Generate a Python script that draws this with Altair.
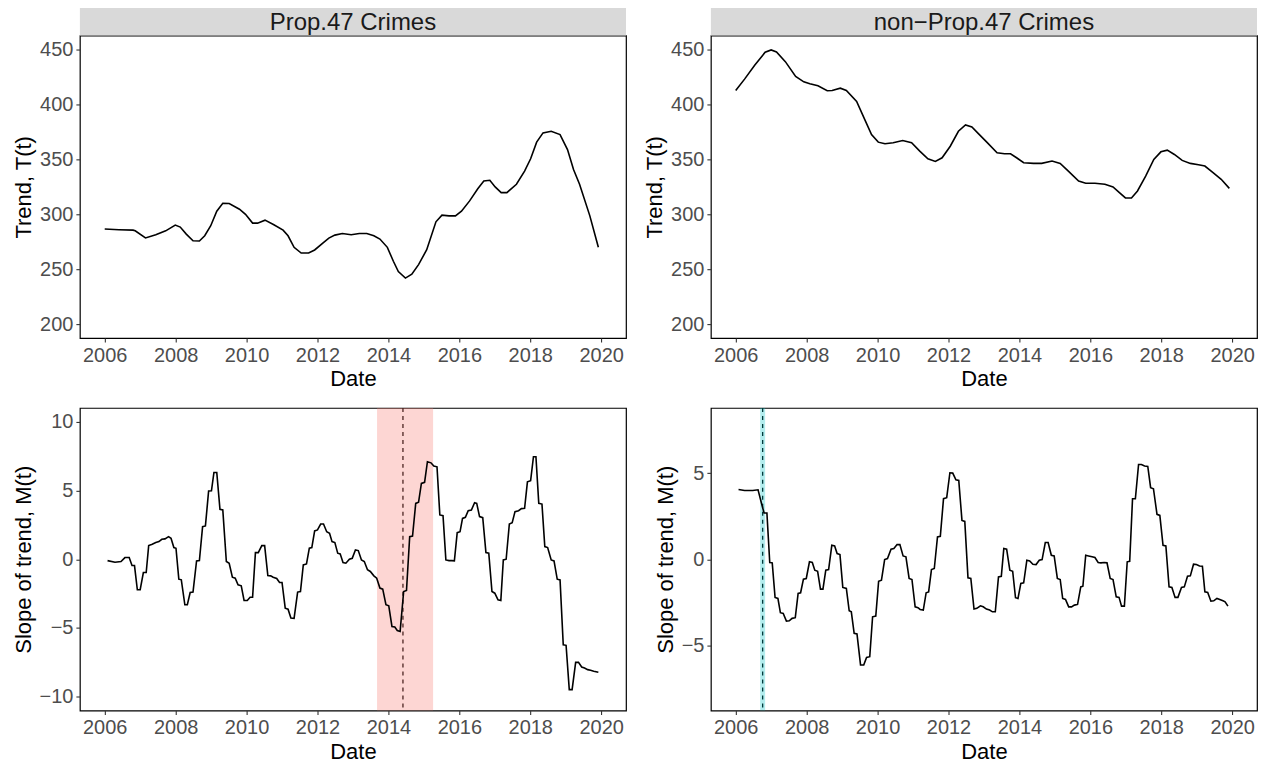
import altair as alt
import pandas as pd

# ---------------- data ----------------
panel_titles = ["Prop.47 Crimes", "non\u2212Prop.47 Crimes"]

p47_trend_year = [2006.0, 2006.4, 2006.8, 2006.86, 2007.15, 2007.44, 2007.72, 2007.99, 2008.13, 2008.3,
                  2008.49, 2008.67, 2008.82, 2008.99, 2009.16, 2009.33, 2009.51, 2009.8, 2009.97, 2010.17,
                  2010.31, 2010.52, 2010.77, 2011.03, 2011.17, 2011.34, 2011.54, 2011.75, 2011.92, 2012.15,
                  2012.32, 2012.49, 2012.7, 2012.95, 2013.18, 2013.39, 2013.59, 2013.76, 2013.97, 2014.14,
                  2014.28, 2014.48, 2014.66, 2014.85, 2015.08, 2015.34, 2015.51, 2015.71, 2015.89, 2016.06,
                  2016.29, 2016.52, 2016.69, 2016.86, 2017.01, 2017.18, 2017.34, 2017.61, 2017.84, 2018.01,
                  2018.18, 2018.36, 2018.59, 2018.84, 2019.05, 2019.22, 2019.39, 2019.68, 2019.92]
p47_trend_val = [286.6, 286, 285.6, 285, 278.5, 281.4, 285, 290.2, 288.4, 282,
                 276, 275.7, 280.5, 289.6, 302.8, 310, 309.8, 304.6, 300, 292,
                 292, 294.7, 290.5, 285.6, 280.5, 270, 264.8, 264.8, 267.6, 273.9,
                 278.4, 281.1, 282.6, 281.4, 282.6, 282.6, 280.5, 277.5, 270, 257.3,
                 248, 242, 245.5, 254.3, 267.8, 293.2, 299.2, 298.6, 298.6, 302.8,
                 312.2, 323.3, 330.3, 330.9, 324.9, 319.7, 319.7, 327.3, 339.3, 350.5,
                 365.6, 374, 375.5, 372.5, 358.9, 340.8, 327.3, 298.6, 270]

non_trend_year = [2006.0, 2006.25, 2006.54, 2006.83, 2007.0, 2007.15, 2007.4, 2007.69, 2007.92, 2008.09,
                  2008.32, 2008.58, 2008.72, 2008.95, 2009.12, 2009.41, 2009.64, 2009.83, 2010.02, 2010.21,
                  2010.44, 2010.71, 2010.96, 2011.19, 2011.42, 2011.63, 2011.82, 2012.05, 2012.28, 2012.48,
                  2012.66, 2012.85, 2013.08, 2013.37, 2013.58, 2013.75, 2013.92, 2014.12, 2014.4, 2014.63,
                  2014.92, 2015.15, 2015.38, 2015.67, 2015.87, 2016.13, 2016.41, 2016.64, 2016.82, 2016.99,
                  2017.16, 2017.33, 2017.56, 2017.79, 2017.99, 2018.17, 2018.37, 2018.59, 2018.82, 2019.05,
                  2019.23, 2019.46, 2019.69, 2019.92]
non_trend_val = [412.6, 422.9, 435.8, 447.3, 449.4, 447.6, 438.8, 425.3, 420.4, 418.6,
                 416.8, 412.3, 412.6, 414.7, 412.6, 402.7, 386.1, 372.5, 365.6, 364.1,
                 365, 367.1, 365, 357.4, 350.5, 348.1, 351.4, 361.9, 375.5, 381.2,
                 379.4, 373.1, 365.6, 355.9, 355, 355, 351.4, 346.9, 346.3, 346.3,
                 348.4, 346.3, 339.3, 330.3, 328.2, 328.2, 327.3, 324.9, 319.7, 314.9,
                 314.9, 321.2, 334.8, 349.9, 356.8, 358.3, 354.4, 349, 346.3, 345.1,
                 343.9, 337.8, 331.8, 323.6]

p47_slope_year = [2006.08, 2006.29, 2006.46, 2006.57, 2006.69, 2006.77, 2006.84, 2006.92, 2007.0, 2007.09,
                  2007.17, 2007.24, 2007.34, 2007.44, 2007.53, 2007.61, 2007.7, 2007.8, 2007.87, 2007.95,
                  2008.01, 2008.09, 2008.16, 2008.26, 2008.33, 2008.41, 2008.49, 2008.59, 2008.67, 2008.76,
                  2008.84, 2008.93, 2009.01, 2009.08, 2009.16, 2009.25, 2009.33, 2009.43, 2009.51, 2009.6,
                  2009.68, 2009.76, 2009.85, 2009.93, 2010.02, 2010.1, 2010.17, 2010.25, 2010.33, 2010.43,
                  2010.51, 2010.6, 2010.68, 2010.75, 2010.85, 2010.93, 2011.0, 2011.09, 2011.17, 2011.25,
                  2011.34, 2011.44, 2011.52, 2011.6, 2011.69, 2011.77, 2011.84, 2011.92, 2012.0, 2012.09,
                  2012.17, 2012.26, 2012.34, 2012.41, 2012.49, 2012.57, 2012.64, 2012.72, 2012.8, 2012.9,
                  2012.98, 2013.07, 2013.15, 2013.24, 2013.32, 2013.41, 2013.49, 2013.59, 2013.67, 2013.76,
                  2013.84, 2013.93, 2014.01, 2014.1, 2014.18, 2014.25, 2014.33, 2014.43, 2014.51, 2014.6,
                  2014.68, 2014.77, 2014.85, 2014.93, 2015.02, 2015.1, 2015.2, 2015.28, 2015.37, 2015.45,
                  2015.54, 2015.62, 2015.71, 2015.79, 2015.86, 2015.94, 2016.02, 2016.09, 2016.17, 2016.25,
                  2016.34, 2016.43, 2016.49, 2016.57, 2016.66, 2016.75, 2016.83, 2016.92, 2017.0, 2017.09,
                  2017.17, 2017.24, 2017.32, 2017.41, 2017.49, 2017.57, 2017.67, 2017.75, 2017.84, 2017.92,
                  2018.01, 2018.09, 2018.16, 2018.24, 2018.33, 2018.41, 2018.49, 2018.59, 2018.67, 2018.76,
                  2018.84, 2018.93, 2019.01, 2019.1, 2019.18, 2019.28, 2019.36, 2019.45, 2019.53, 2019.62,
                  2019.7, 2019.79, 2019.92]
p47_slope_val = [-0.1, -0.22, -0.17, 0.12, 0.12, -0.46, -0.46, -2.22, -2.22, -0.97,
                 -0.97, 0.99, 1.09, 1.21, 1.28, 1.45, 1.48, 1.64, 1.52, 0.85,
                 0.8, -1.45, -1.5, -3.31, -3.31, -2.42, -2.39, -0.12, -0.1, 2.37,
                 2.42, 4.96, 4.98, 6.31, 6.31, 3.63, 3.58, -0.17, -0.29, -1.31,
                 -1.38, -1.86, -1.93, -3.0, -3.0, -2.76, -2.76, 0.48, 0.48, 0.99,
                 0.99, -1.19, -1.21, -1.31, -1.4, -1.69, -1.69, -3.56, -3.63, -4.28,
                 -4.3, -2.39, -2.35, -0.41, -0.34, 0.8, 0.85, 2.06, 2.13, 2.56,
                 2.56, 2.0, 1.89, 1.28, 1.21, 0.44, 0.39, -0.24, -0.29, 0.0,
                 0.07, 0.68, 0.63, -0.05, -0.17, -0.77, -0.89, -1.21, -1.38, -2.1,
                 -2.18, -3.31, -3.39, -4.89, -4.93, -5.18, -5.25, -2.35, -2.27, 1.64,
                 1.69, 4.06, 4.14, 5.51, 5.59, 7.09, 7.01, 6.77, 6.72, 3.22,
                 3.17, -0.05, -0.1, -0.1, -0.12, 1.93, 2.0, 2.97, 3.05, 3.53,
                 3.58, 4.11, 4.06, 3.1, 3.02, 0.48, 0.44, -2.35, -2.47, -2.95,
                 -3.0, -0.05, 0.0, 2.56, 2.66, 3.46, 3.53, 3.68, 3.7, 5.63,
                 5.71, 7.45, 7.45, 4.06, 4.01, 0.92, 0.85, -0.05, -0.12, -1.45,
                 -1.5, -6.22, -6.26, -9.48, -9.48, -7.5, -7.5, -7.84, -7.91, -8.03,
                 -8.08, -8.15, -8.22]

non_slope_year = [2006.08, 2006.25, 2006.48, 2006.63, 2006.73, 2006.8, 2006.88, 2006.96, 2007.03, 2007.11,
                  2007.19, 2007.26, 2007.34, 2007.43, 2007.51, 2007.59, 2007.68, 2007.76, 2007.83, 2007.91,
                  2007.99, 2008.08, 2008.16, 2008.23, 2008.31, 2008.39, 2008.46, 2008.54, 2008.62, 2008.71,
                  2008.79, 2008.86, 2008.94, 2009.02, 2009.12, 2009.2, 2009.26, 2009.34, 2009.42, 2009.52,
                  2009.61, 2009.69, 2009.78, 2009.86, 2009.95, 2010.03, 2010.11, 2010.2, 2010.28, 2010.38,
                  2010.46, 2010.55, 2010.63, 2010.72, 2010.8, 2010.89, 2010.97, 2011.06, 2011.14, 2011.2,
                  2011.29, 2011.37, 2011.44, 2011.52, 2011.6, 2011.69, 2011.77, 2011.86, 2011.95, 2012.04,
                  2012.12, 2012.21, 2012.29, 2012.38, 2012.46, 2012.55, 2012.63, 2012.72, 2012.8, 2012.9,
                  2012.98, 2013.07, 2013.16, 2013.24, 2013.32, 2013.41, 2013.49, 2013.56, 2013.64, 2013.73,
                  2013.81, 2013.89, 2013.96, 2014.04, 2014.12, 2014.21, 2014.29, 2014.38, 2014.47, 2014.56,
                  2014.64, 2014.73, 2014.81, 2014.9, 2014.98, 2015.07, 2015.15, 2015.22, 2015.3, 2015.39,
                  2015.47, 2015.55, 2015.64, 2015.73, 2015.79, 2015.87, 2015.95, 2016.05, 2016.13, 2016.22,
                  2016.3, 2016.39, 2016.47, 2016.56, 2016.64, 2016.73, 2016.81, 2016.88, 2016.96, 2017.04,
                  2017.11, 2017.19, 2017.27, 2017.36, 2017.44, 2017.53, 2017.62, 2017.7, 2017.78, 2017.88,
                  2017.96, 2018.05, 2018.13, 2018.22, 2018.3, 2018.39, 2018.47, 2018.57, 2018.65, 2018.74,
                  2018.82, 2018.91, 2018.99, 2019.08, 2019.16, 2019.23, 2019.31, 2019.4, 2019.48, 2019.57,
                  2019.65, 2019.74, 2019.8, 2019.88]
non_slope_val = [4.06, 4.0, 4.0, 4.04, 3.23, 2.69, 2.69, -0.19, -0.21, -2.22,
                 -2.28, -3.11, -3.15, -3.6, -3.58, -3.44, -3.4, -1.99, -1.95, -1.16,
                 -1.12, -0.15, -0.19, -0.64, -0.7, -1.74, -1.74, -0.64, -0.6, 0.81,
                 0.77, 0.33, 0.27, -1.64, -1.7, -3.0, -3.06, -4.31, -4.35, -6.15,
                 -6.15, -5.71, -5.67, -3.35, -3.31, -1.28, -1.22, -0.02, 0.04, 0.58,
                 0.62, 0.85, 0.85, 0.19, 0.14, -1.12, -1.18, -2.77, -2.82, -2.92,
                 -2.96, -1.95, -1.9, -0.6, -0.54, 1.3, 1.33, 3.52, 3.58, 5.03,
                 5.01, 4.62, 4.58, 2.26, 2.2, -1.08, -1.12, -2.9, -2.86, -2.71,
                 -2.77, -2.9, -2.96, -3.06, -3.06, -1.03, -0.99, 0.62, 0.58, -0.64,
                 -0.7, -2.24, -2.28, -1.41, -1.37, -0.06, -0.1, -0.29, -0.31, -0.06,
                 -0.02, 0.97, 0.97, 0.23, 0.19, -1.12, -1.18, -2.28, -2.34, -2.77,
                 -2.77, -2.67, -2.63, -1.61, -1.57, 0.23, 0.19, 0.14, 0.1, -0.19,
                 -0.21, -0.19, -0.21, -1.12, -1.18, -2.19, -2.22, -2.73, -2.73, -0.15,
                 -0.12, 3.52, 3.52, 5.51, 5.51, 5.42, 5.4, 4.16, 4.1, 2.61,
                 2.55, 0.81, 0.77, -1.61, -1.64, -2.22, -2.22, -1.64, -1.61, -0.99,
                 -0.97, -0.29, -0.31, -0.39, -0.41, -1.9, -1.93, -2.44, -2.42, -2.28,
                 -2.34, -2.42, -2.48, -2.73]

# change point (dashed line) and its interval (shaded band)
p47_break = [2014.41]
p47_band = [2013.68, 2015.26]
non_break = [2006.76]
non_band = [2006.69, 2006.83]
band_colors = ["#F8766D", "#00BFC4"]

x_ticks = [2006, 2008, 2010, 2012, 2014, 2016, 2018, 2020]
trend_ticks = [200, 250, 300, 350, 400, 450]

# ---------------- layout constants ----------------
W = 547
H = 303
STRIP = 27.5
FONT = "Liberation Sans"
X_DOMAIN = [2005.3, 2020.7]

X_AXIS = alt.Axis(values=x_ticks, format="d", title="Date")


def x_enc(field):
    return alt.X(f"{field}:Q", scale=alt.Scale(domain=X_DOMAIN, nice=False, zero=False),
                 axis=X_AXIS, title="Date")


def trend_panel(years, vals, title):
    df = pd.DataFrame({"year": years, "value": vals})
    strip_df = pd.DataFrame({"label": [title]})
    strip_rect = alt.Chart(strip_df).mark_rect(color="#D9D9D9").encode(
        x=alt.value(0), x2=alt.value(W), y=alt.value(-STRIP), y2=alt.value(0)
    )
    strip_text = alt.Chart(strip_df).mark_text(
        font=FONT, fontSize=24, color="#1A1A1A", align="center", baseline="top"
    ).encode(x=alt.value(W / 2), y=alt.value(-24.5), text="label:N")
    line = alt.Chart(df).mark_line(color="black", strokeWidth=1.6).encode(
        x=x_enc("year"),
        y=alt.Y("value:Q", scale=alt.Scale(domain=[187.5, 462.5], nice=False, zero=False),
                axis=alt.Axis(values=trend_ticks, title="Trend, T(t)")),
    )
    return alt.layer(strip_rect, strip_text, line).properties(width=W, height=H)


def slope_panel(years, vals, brk, band, color, ydomain, yticks):
    df = pd.DataFrame({"year": years, "value": vals})
    bdf = pd.DataFrame({"lo": [band[0]], "hi": [band[1]]})
    rdf = pd.DataFrame({"brk": brk})
    y_axis = alt.Axis(values=yticks, title="Slope of trend, M(t)")
    line = alt.Chart(df).mark_line(color="black", strokeWidth=1.6).encode(
        x=x_enc("year"),
        y=alt.Y("value:Q", scale=alt.Scale(domain=ydomain, nice=False, zero=False), axis=y_axis),
    )
    rule = alt.Chart(rdf).mark_rule(color="black", strokeDash=[4, 4], strokeWidth=1.3).encode(
        x=x_enc("brk")
    )
    rect = alt.Chart(bdf).mark_rect(color=color, opacity=0.3).encode(
        x=x_enc("lo"), x2="hi:Q", y=alt.value(0), y2=alt.value(H)
    )
    return alt.layer(rule, rect, line).properties(width=W, height=H)


tl = trend_panel(p47_trend_year, p47_trend_val, panel_titles[0])
tr = trend_panel(non_trend_year, non_trend_val, panel_titles[1])
bl = slope_panel(p47_slope_year, p47_slope_val, p47_break, p47_band, band_colors[0],
                 [-11, 11], [-10, -5, 0, 5, 10])
br = slope_panel(non_slope_year, non_slope_val, non_break, non_band, band_colors[1],
                 [-8.8, 8.8], [-5, 0, 5])

chart = alt.concat(tl, tr, bl, br, columns=2, spacing={"row": 15, "column": 16}).properties(
    padding={"left": 3, "top": -2, "right": 4, "bottom": 0}
).configure_view(
    stroke="black", strokeWidth=1.2
).configure_axis(
    grid=False, domain=False, tickColor="#333333", tickSize=4, tickWidth=1.1,
    labelFont=FONT, labelFontSize=20, labelColor="#4D4D4D", labelPadding=3,
    titleFont=FONT, titleFontSize=22, titleColor="black", titleFontWeight="normal", titlePadding=4,
)

chart.save("out.html", embed_options={"renderer": "svg", "actions": False})
